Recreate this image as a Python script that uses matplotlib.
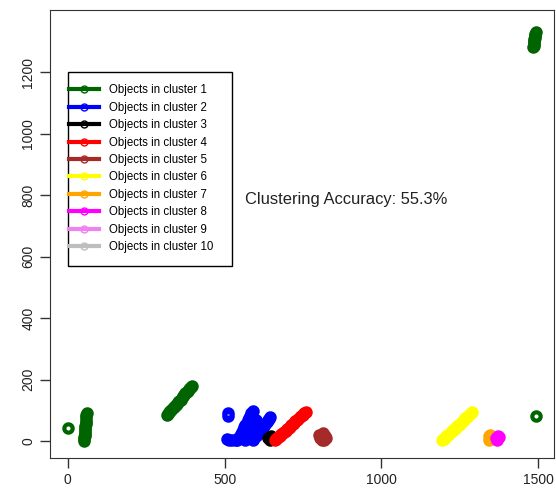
import matplotlib.pyplot as plt
from matplotlib.lines import Line2D
from matplotlib.patches import Rectangle

plt.rcParams['font.family'] = ['Liberation Sans', 'DejaVu Sans']

# cluster members (x, y)
c1_x = [0,
        52, 53, 53, 54, 54, 55, 55, 56, 56, 57, 57, 58, 58, 59, 60,
        315, 319, 322, 326, 330, 334, 338, 341, 345, 349, 352, 356, 360,
        364, 368, 371, 375, 379, 382, 386, 390, 393, 395,
        1495,
        1485, 1486, 1486, 1487, 1488, 1488, 1489, 1490, 1490, 1491, 1492]
c1_y = [42,
        0, 6, 12, 18, 24, 30, 36, 42, 48, 55, 62, 70, 77, 85, 92,
        85, 89, 93, 98, 102, 106, 110, 114, 118, 122, 127, 131, 135,
        140, 145, 150, 155, 159, 163, 168, 172, 176, 180,
        80,
        1280, 1286, 1292, 1297, 1302, 1307, 1312, 1316, 1320, 1325, 1330]
c2_x = [510, 512, 508, 515, 525, 535,
        540, 544, 548, 551, 555, 558, 562, 566, 570, 574, 578, 581, 585, 590,
        565, 568, 572, 576, 580, 584, 588, 592, 595, 600,
        590, 595, 600, 605, 610, 615, 620, 625, 630, 634, 638, 642, 645]
c2_y = [90, 80, 8, 2, 5, 3,
        3, 9, 15, 22, 30, 37, 45, 52, 60, 67, 75, 82, 90, 98,
        5, 11, 18, 24, 30, 37, 45, 51, 58, 70,
        3, 9, 15, 21, 28, 35, 42, 48, 55, 62, 68, 73, 78]
c3_x = [640, 645, 648]
c3_y = [10, 5, 15]
c4_x = [660, 664, 668, 672, 677, 681, 686, 690, 695, 699, 704, 708, 713,
        717, 722, 726, 731, 735, 740, 745, 750, 755, 760]
c4_y = [3, 6, 10, 14, 18, 22, 26, 30, 34, 38, 43, 47, 51,
        55, 60, 64, 68, 72, 77, 81, 86, 90, 95]
c5_x = [800, 805, 810, 815, 820, 825, 810, 818]
c5_y = [20, 10, 5, 25, 15, 10, 18, 5]
c6_x = [1195, 1199, 1204, 1208, 1212, 1216, 1221, 1225, 1230, 1234, 1238,
        1242, 1247, 1251, 1256, 1260, 1264, 1268, 1273, 1277, 1282, 1286, 1290]
c6_y = [3, 7, 11, 15, 20, 24, 28, 32, 36, 40, 45,
        49, 53, 57, 61, 65, 70, 74, 78, 82, 87, 91, 95]
c7_x = [1343, 1345, 1347]
c7_y = [15, 5, 20]
c8_x = [1365, 1370, 1375, 1372]
c8_y = [10, 5, 12, 18]

colors = ['#006400', '#0000FF', '#000000', '#FF0000', '#A52A2A',
          '#FFFF00', '#FFA500', '#FF00FF', '#EE82EE', '#BEBEBE']
labels = ['Objects in cluster %d' % i for i in range(1, 11)]

fig = plt.figure(figsize=(5.56, 4.96), dpi=100)
ax = fig.add_axes([0.0899, 0.0766, 0.9065, 0.9034])

clusters = [(c1_x, c1_y), (c2_x, c2_y), (c3_x, c3_y), (c4_x, c4_y),
            (c5_x, c5_y), (c6_x, c6_y), (c7_x, c7_y), (c8_x, c8_y)]
for (xs, ys), col in zip(clusters, colors):
    ax.plot(xs, ys, linestyle='none', marker='o', markersize=6,
            markerfacecolor='none', markeredgecolor=col, markeredgewidth=3)

ax.set_xlim(-57, 1551)
ax.set_ylim(-55, 1402)
ax.set_xticks([0, 500, 1000, 1500])
ax.set_yticks([0, 200, 400, 600, 800, 1000, 1200])
ax.tick_params(direction='out', length=7, width=1, labelsize=10,
               color='#333333', labelcolor='#222222')
for lab in ax.get_yticklabels():
    lab.set_rotation(90)
    lab.set_va('center')
for sp in ax.spines.values():
    sp.set_color('#333333')

# legend box drawn separately so the padding can differ per side
ax.add_patch(Rectangle((0.036, 0.429), 0.325, 0.433, transform=ax.transAxes,
                       facecolor='white', edgecolor='black', lw=1, zorder=4))

handles = [Line2D([], [], color=c, lw=3, marker='o', markersize=5,
                  markerfacecolor='none', markeredgecolor=c, markeredgewidth=1)
           for c in colors]
leg = ax.legend(handles, labels, loc='upper left', bbox_to_anchor=(0.038, 0.834),
                fontsize=8.3, frameon=False, borderpad=0,
                labelspacing=0.47, handlelength=2.6, handletextpad=0.9,
                borderaxespad=0)
leg.set_zorder(5)

ax.text(887, 784, 'Clustering Accuracy: 55.3%', fontsize=11.9,
        ha='center', va='center', color='#222222')

fig.savefig('out.png', dpi=100)
